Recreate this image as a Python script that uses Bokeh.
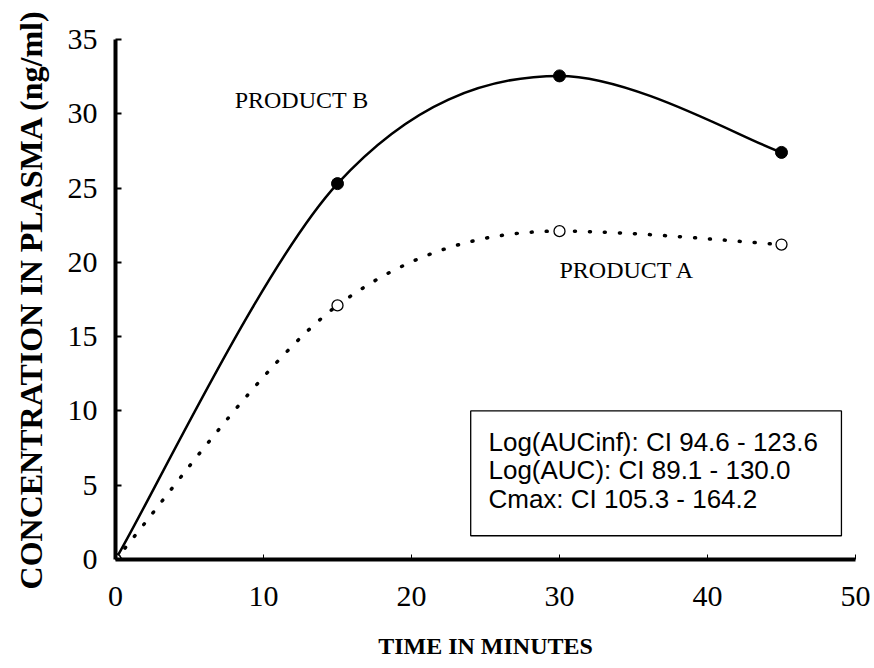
from bokeh.plotting import figure
from bokeh.models import Range1d, BoxAnnotation, Label, FixedTicker
from bokeh.embed import file_html
from bokeh.resources import INLINE

# ---- data ----
time_min = [0, 15, 30, 45]
product_b = [0, 25.3, 32.55, 27.4]
product_a = [0, 17.1, 22.1, 21.2]
x_ticks = [0, 10, 20, 30, 40, 50]
y_ticks = [0, 5, 10, 15, 20, 25, 30, 35]
box_lines = ["Log(AUCinf): CI 94.6 - 123.6",
             "Log(AUC): CI 89.1 - 130.0",
             "Cmax: CI 105.3 - 164.2"]

p = figure(width=874, height=668, output_backend="svg", toolbar_location=None,
           x_range=Range1d(0, 50), y_range=Range1d(0, 35),
           min_border_left=115, min_border_right=19, min_border_top=39,
           min_border_bottom=109)
p.outline_line_color = None
p.grid.visible = False
p.background_fill_color = "white"
p.border_fill_color = "white"


def smooth_segments(xs, ys):
    """Bezier control points for a smoothed line through the points
    (Catmull-Rom tangents, flat tangent at a local peak)."""
    n = len(xs)
    tang = []
    for i in range(n):
        xm, ym = (xs[i - 1], ys[i - 1]) if i > 0 else (xs[i], ys[i])
        xp, yp = (xs[i + 1], ys[i + 1]) if i + 1 < n else (xs[i], ys[i])
        dy = yp - ym
        if 0 < i < n - 1 and (ys[i] - ym) * (yp - ys[i]) <= 0:
            dy = 0.0
        tang.append(((xp - xm) / 6, dy / 6))
    segs = dict(x0=[], y0=[], x1=[], y1=[], cx0=[], cy0=[], cx1=[], cy1=[])
    for i in range(n - 1):
        segs["x0"].append(xs[i]); segs["y0"].append(ys[i])
        segs["x1"].append(xs[i + 1]); segs["y1"].append(ys[i + 1])
        segs["cx0"].append(xs[i] + tang[i][0])
        segs["cy0"].append(ys[i] + tang[i][1])
        segs["cx1"].append(xs[i + 1] - tang[i + 1][0])
        segs["cy1"].append(ys[i + 1] - tang[i + 1][1])
    return segs


sb = smooth_segments(time_min, product_b)
p.bezier(x0=sb["x0"], y0=sb["y0"], x1=sb["x1"], y1=sb["y1"],
         cx0=sb["cx0"], cy0=sb["cy0"], cx1=sb["cx1"], cy1=sb["cy1"],
         line_color="black", line_width=2.5)
sa = smooth_segments(time_min, product_a)
p.bezier(x0=sa["x0"], y0=sa["y0"], x1=sa["x1"], y1=sa["y1"],
         cx0=sa["cx0"], cy0=sa["cy0"], cx1=sa["cx1"], cy1=sa["cy1"],
         line_color="black", line_width=3.5, line_dash="1 14", line_cap="round")

p.scatter(time_min, product_b, size=12, fill_color="black", line_color="black")
p.scatter(time_min, product_a, size=11, fill_color="white", line_color="black",
          line_width=1.3)

# annotation box
p.add_layout(BoxAnnotation(left=24, right=49.05, bottom=1.6, top=10,
                           fill_color="white", fill_alpha=1,
                           line_color="black", line_alpha=1, line_width=1.3,
                           level="overlay"))
for ty, txt in zip([7.9, 6.0, 4.1], box_lines):
    p.add_layout(Label(x=25.2, y=ty, text=txt, text_font="Liberation Sans",
                       text_font_size="26px", text_color="black",
                       text_baseline="alphabetic", level="overlay"))

p.add_layout(Label(x=8.05, y=30.9, text="PRODUCT B", text_font="Liberation Serif",
                   text_font_size="24px", text_color="black",
                   text_baseline="alphabetic"))
p.add_layout(Label(x=30.0, y=19.5, text="PRODUCT A", text_font="Liberation Serif",
                   text_font_size="24px", text_color="black",
                   text_baseline="alphabetic"))

for ax in (p.xaxis[0], p.yaxis[0]):
    ax.axis_line_color = "black"
    ax.axis_line_width = 4
    ax.major_tick_line_color = "black"
    ax.minor_tick_line_color = None
    ax.major_tick_out = 0
    ax.major_label_text_font = "Liberation Serif"
    ax.major_label_text_font_size = "30px"
    ax.major_label_text_color = "black"
    ax.axis_label_text_font = "Liberation Serif"
    ax.axis_label_text_font_style = "bold"
    ax.axis_label_text_color = "black"

p.xaxis.ticker = FixedTicker(ticks=x_ticks)
p.yaxis.ticker = FixedTicker(ticks=y_ticks)
p.xaxis.major_tick_in = 5
p.xaxis.major_tick_line_width = 1
p.yaxis.major_tick_in = 6
p.yaxis.major_tick_line_width = 2
p.xaxis.major_label_standoff = 27
p.yaxis.major_label_standoff = 18
p.xaxis.axis_label = "TIME IN MINUTES"
p.yaxis.axis_label = "CONCENTRATION IN PLASMA (ng/ml)"
p.xaxis.axis_label_text_font_size = "24px"
p.yaxis.axis_label_text_font_size = "32px"
p.xaxis.axis_label_standoff = 24
p.yaxis.axis_label_standoff = 16

open("out.html", "w").write(file_html(p, INLINE))
